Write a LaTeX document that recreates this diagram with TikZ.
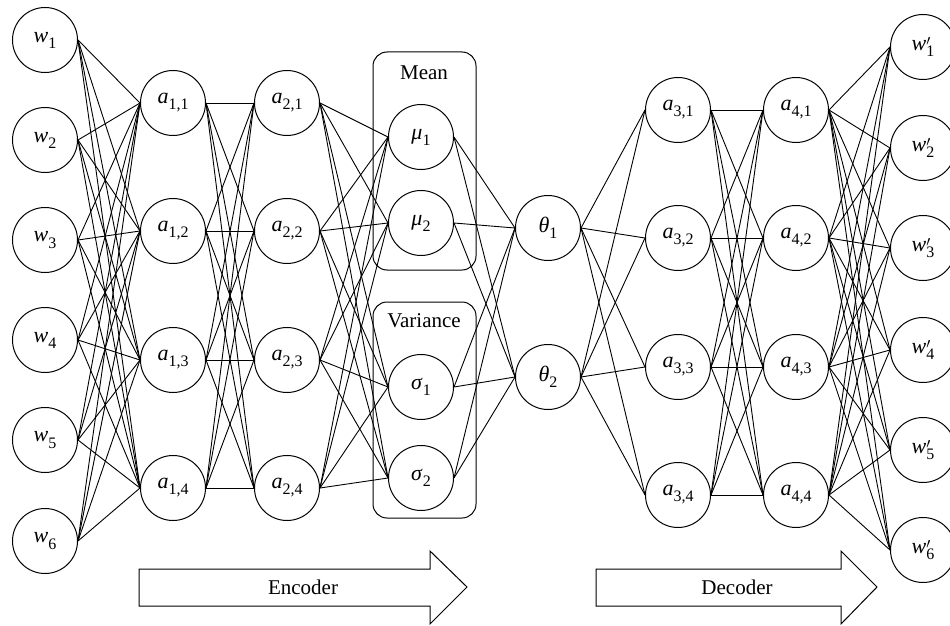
\documentclass[tikz,border=0pt]{standalone}
\usepackage{fontspec}
\setmainfont{Liberation Serif}
\newcommand\nsubx[1]{\raisebox{-0.6ex}{\fontsize{16}{16}\selectfont #1}}
\newcommand\lbw[2]{\textit{#1}\nsubx{#2}}
\newcommand\lbwp[2]{\textit{#1}\rlap{\raisebox{-0.2ex}{$^{\prime}$}}\nsubx{#2}}
\tikzset{
  neuron/.style={circle, draw, line width=1pt, minimum size=65pt, inner sep=0pt, font=\fontsize{22}{22}\selectfont},
  conn/.style={line width=0.9pt},
  groupbox/.style={draw, line width=1pt, rounded corners=14pt},
  grouplabel/.style={font=\fontsize{21}{21}\selectfont, inner sep=0pt},
  bigarrow/.style={draw, line width=1pt, line join=miter},
}
\begin{document}
\begin{tikzpicture}[x=1pt, y=-1pt]
\useasboundingbox (0,0) rectangle (950,626);
% input layer
\foreach \y [count=\i] in {40,140,240,340,440,541}
  \node[neuron] (w\i) at (45,\y) {\lbw{w}{\i}};
% encoder hidden layers
\foreach \y [count=\i] in {103,231,360,488} {
  \node[neuron] (pa\i) at (173,\y) {\lbw{a}{1,\i}};
  \node[neuron] (pb\i) at (287,\y) {\lbw{a}{2,\i}};
}
% latent
\node[neuron] (mu1) at (421,137) {\lbw{μ}{1}};
\node[neuron] (mu2) at (421,223) {\lbw{μ}{2}};
\node[neuron] (sg1) at (421,387) {\lbw{σ}{1}};
\node[neuron] (sg2) at (421,478) {\lbw{σ}{2}};
\node[neuron] (th1) at (548,228) {\lbw{θ}{1}};
\node[neuron] (th2) at (548,377) {\lbw{θ}{2}};
% decoder hidden layers
\foreach \y [count=\i] in {110,238,367,495} {
  \node[neuron] (pc\i) at (678,\y) {\lbw{a}{3,\i}};
  \node[neuron] (pd\i) at (796,\y) {\lbw{a}{4,\i}};
}
% output layer
\foreach \y [count=\i] in {47,148,248,350,450,550}
  \node[neuron] (v\i) at (923,\y) {\lbwp{w}{\i}};
% group boxes
\draw[groupbox] (373,52) rectangle (476,270);
\node[grouplabel] (meanlab) at (424,73) {Mean};
\draw[groupbox] (373,302) rectangle (476,518);
\node[grouplabel] (varlab) at (424,321) {Variance};
% connectors
\foreach \i in {1,...,6} \foreach \j in {1,...,4}
  \draw[conn] (w\i.east) -- (pa\j.west);
\foreach \i in {1,...,4} \foreach \j in {1,...,4}
  \draw[conn] (pa\i.east) -- (pb\j.west);
\foreach \i in {1,...,4} \foreach \m in {mu1,mu2,sg1,sg2}
  \draw[conn] (pb\i.east) -- (\m.west);
\foreach \m in {mu1,mu2,sg1,sg2} \foreach \t in {th1,th2}
  \draw[conn] (\m.east) -- (\t.west);
\foreach \t in {th1,th2} \foreach \j in {1,...,4}
  \draw[conn] (\t.east) -- (pc\j.west);
\foreach \i in {1,...,4} \foreach \j in {1,...,4}
  \draw[conn] (pc\i.east) -- (pd\j.west);
\foreach \i in {1,...,4} \foreach \j in {1,...,6}
  \draw[conn] (pd\i.east) -- (v\j.west);
% big arrows
\draw[bigarrow] (139,569) -- (430,569) -- (430,551) -- (467,587) -- (430,624) -- (430,606) -- (139,606) -- cycle;
\node[grouplabel] (enclab) at (303,587) {Encoder};
\draw[bigarrow] (596,569) -- (841,569) -- (841,551) -- (877,587) -- (841,624) -- (841,606) -- (596,606) -- cycle;
\node[grouplabel] (declab) at (737,587) {Decoder};
\end{tikzpicture}
\end{document}
